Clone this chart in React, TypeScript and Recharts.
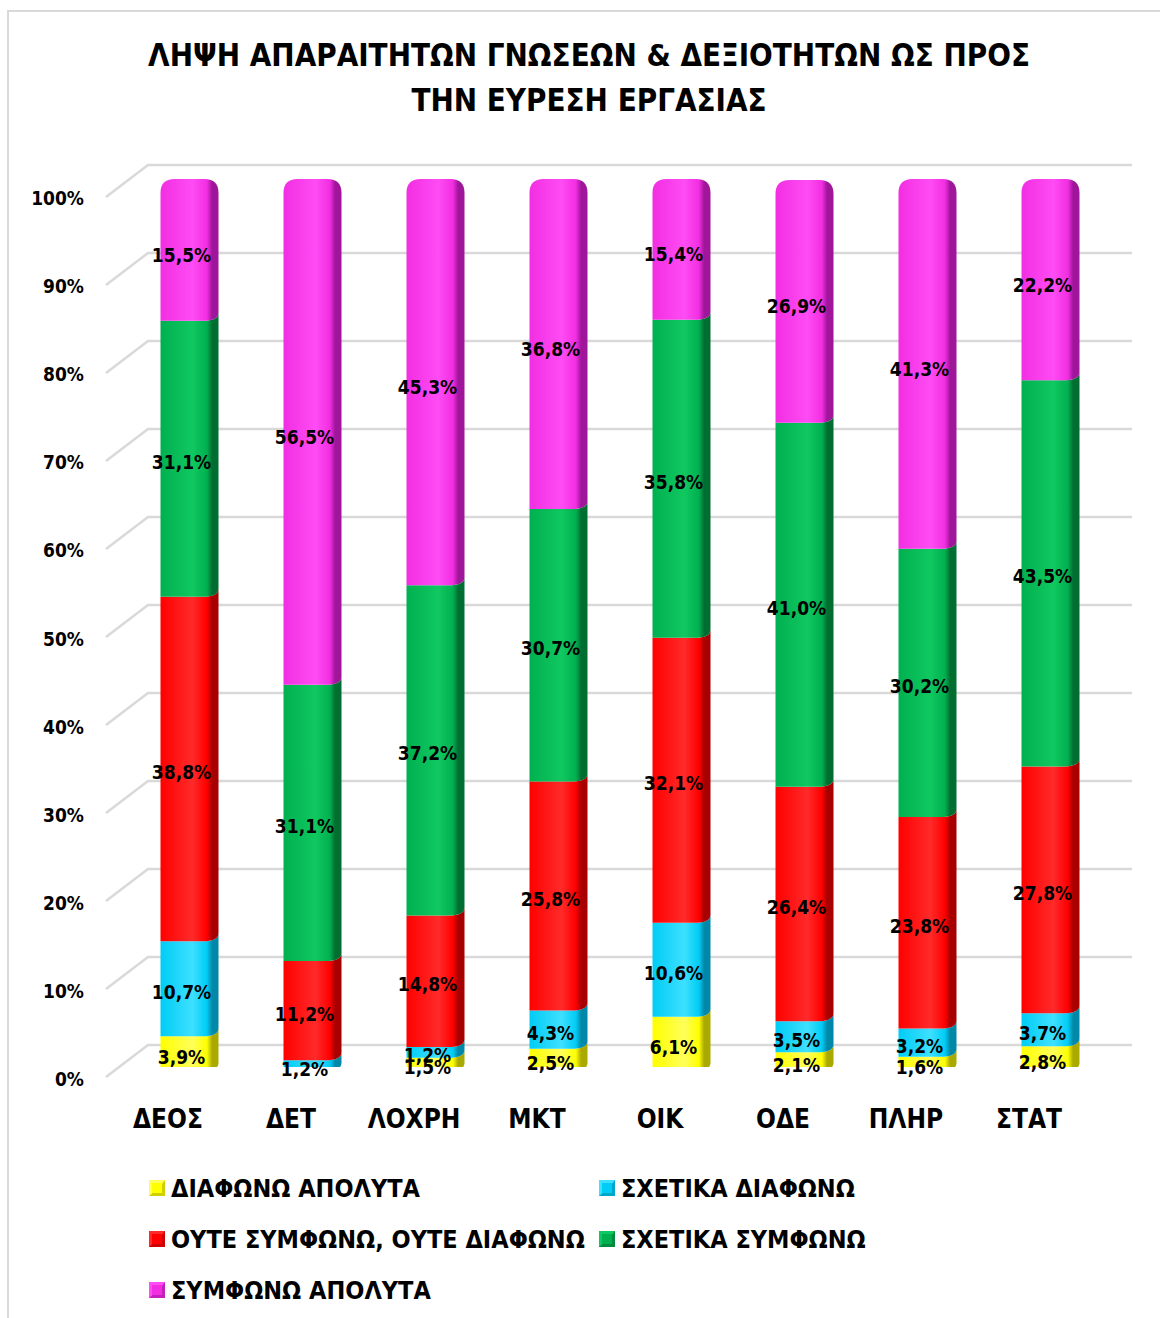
import React from 'react';
import { BarChart, Bar, XAxis, YAxis, CartesianGrid, LabelList, Legend } from 'recharts';

const categories = ['ΔΕΟΣ', 'ΔΕΤ', 'ΛΟΧΡΗ', 'ΜΚΤ', 'ΟΙΚ', 'ΟΔΕ', 'ΠΛΗΡ', 'ΣΤΑΤ'];
const diafonoApolyta = [3.9, 0, 1.5, 2.5, 6.1, 2.1, 1.6, 2.8];
const sxetikaDiafono = [10.7, 1.2, 1.2, 4.3, 10.6, 3.5, 3.2, 3.7];
const outeOute = [38.8, 11.2, 14.8, 25.8, 32.1, 26.4, 23.8, 27.8];
const sxetikaSymfono = [31.1, 31.1, 37.2, 30.7, 35.8, 41.0, 30.2, 43.5];
const symfonoApolyta = [15.5, 56.5, 45.3, 36.8, 15.4, 26.9, 41.3, 22.2];
const yTicks = [0, 10, 20, 30, 40, 50, 60, 70, 80, 90, 100];

const seriesNames = [
  'ΔΙΑΦΩΝΩ ΑΠΟΛΥΤΑ',
  'ΣΧΕΤΙΚΑ ΔΙΑΦΩΝΩ',
  'ΟΥΤΕ ΣΥΜΦΩΝΩ, ΟΥΤΕ ΔΙΑΦΩΝΩ',
  'ΣΧΕΤΙΚΑ ΣΥΜΦΩΝΩ',
  'ΣΥΜΦΩΝΩ ΑΠΟΛΥΤΑ',
];
const seriesKeys = ['s0', 's1', 's2', 's3', 's4'];
const seriesValues = [diafonoApolyta, sxetikaDiafono, outeOute, sxetikaSymfono, symfonoApolyta];

const palette = [
  { base: '#ffff00', light: '#ffff5a', dark: '#a9a900' },
  { base: '#00ccf5', light: '#3ee0ff', dark: '#0088a8' },
  { base: '#ff0000', light: '#ff2a2a', dark: '#a80000' },
  { base: '#00b050', light: '#10c860', dark: '#006e30' },
  { base: '#f22ee2', light: '#ff4cf4', dark: '#a0169a' },
];

const data = categories.map((name, i) => {
  const row: any = { name };
  seriesKeys.forEach((k, j) => {
    row[k] = seriesValues[j][i];
  });
  return row;
});

const FONT = "'Liberation Sans Narrow', 'DejaVu Sans Condensed', 'Open Sans', sans-serif";

const makeSegment = (si: number) => (props: any) => {
  const { x, y, width: w, height: h } = props;
  if (!h || h <= 0.01 || !w) return <g />;
  const d = 4;
  const isTop = si === seriesKeys.length - 1;
  const r = 14;
  let path;
  if (isTop) {
    path = `M${x},${y + h + d} L${x},${y + r} Q${x},${y} ${x + r},${y} L${x + w - r},${y} Q${x + w},${y} ${x + w},${y + r} L${x + w},${y + h - d} Q${x + w},${y + h + d} ${x + 0.72 * w},${y + h + d} Z`;
  } else {
    path = `M${x},${y + d} L${x + 0.72 * w},${y + d} Q${x + w},${y + d} ${x + w},${y - d} L${x + w},${y + h - d} Q${x + w},${y + h + d} ${x + 0.72 * w},${y + h + d} L${x},${y + h + d} Z`;
  }
  return <path d={path} fill={`url(#grad${si})`} />;
};

const renderLabel = (props: any) => {
  const { x, y, width, height, value } = props;
  if (!value) return null;
  return (
    <text
      x={x + width / 2 - 8}
      y={y + height / 2 + 7}
      textAnchor="middle"
      dominantBaseline="central"
      fontFamily={FONT}
      fontWeight="bold"
      fontSize={19}
      fill="#000"
    >
      {String(value.toFixed(1)).replace('.', ',') + '%'}
    </text>
  );
};

const YTick = (props: any) => {
  const { y, payload } = props;
  const ly = y + 12 + ((1067 - y) * 7) / 888;
  return (
    <text x={84} y={ly} textAnchor="end" dominantBaseline="central" fontFamily={FONT} fontWeight="bold" fontSize={19} fill="#000">
      {payload.value + '%'}
    </text>
  );
};

const XTick = (props: any) => {
  const { x, y, payload } = props;
  return (
    <text x={x - 21} y={y + 44} textAnchor="middle" dominantBaseline="central" fontFamily={FONT} fontWeight="bold" fontSize={26} fill="#000">
      {payload.value}
    </text>
  );
};

const gridLine = (p: any) => {
  const y1 = p.y1;
  const yb = 165 + ((y1 - 179) * 880) / 888;
  return (
    <path
      key={`grid-${p.index}-${y1}`}
      d={`M106,${yb + 32} L148,${yb} L1132,${yb}`}
      fill="none"
      stroke="#d9d9d9"
      strokeWidth={2.5}
    />
  );
};

const LegendMarker = ({ si }: { si: number }) => {
  const c = palette[si];
  return (
    <svg width={16} height={16} style={{ display: 'block' }}>
      <rect x={0} y={0} width={16} height={16} fill={c.base} />
      <polygon points="0,0 16,0 10,8 0,16" fill={c.light} />
      <polygon points="16,0 16,16 0,16 10,8" fill={c.dark} opacity={0.55} />
      <rect x={3} y={3} width={10} height={10} fill={c.base} />
    </svg>
  );
};

const renderLegend = () => {
  const cells = [0, 1, 2, 3, 4];
  return (
    <div style={{ position: 'relative', width: 1160, height: 150, fontFamily: FONT, fontWeight: 'bold', fontSize: 25, color: '#000' }}>
      {cells.map((si) => {
        const col = si % 2;
        const row = Math.floor(si / 2);
        return (
          <div
            key={si}
            style={{
              position: 'absolute',
              left: col === 0 ? 149 : 599,
              top: row * 51,
              height: 40,
              display: 'flex',
              alignItems: 'center',
              whiteSpace: 'nowrap',
            }}
          >
            <LegendMarker si={si} />
            <span style={{ marginLeft: 6 }}>{seriesNames[si]}</span>
          </div>
        );
      })}
    </div>
  );
};

export default function App() {
  return (
    <div style={{ position: 'absolute', left: 0, top: 0, width: 1160, height: 1318, overflow: 'hidden', background: '#fff' }}>
      <div
        style={{
          position: 'absolute',
          left: 7,
          top: 10,
          width: 1200,
          height: 1400,
          border: '2px solid #d9d9d9',
          boxSizing: 'border-box',
        }}
      />
      <div
        style={{
          position: 'absolute',
          left: 0,
          top: 33,
          width: 1178,
          textAlign: 'center',
          fontFamily: FONT,
          fontWeight: 'bold',
          fontSize: 31,
          lineHeight: '45px',
          color: '#000',
        }}
      >
        ΛΗΨΗ ΑΠΑΡΑΙΤΗΤΩΝ ΓΝΩΣΕΩΝ &amp; ΔΕΞΙΟΤΗΤΩΝ ΩΣ ΠΡΟΣ
        <br />
        ΤΗΝ ΕΥΡΕΣΗ ΕΡΓΑΣΙΑΣ
      </div>
      <div style={{ position: 'absolute', left: 0, top: 0 }}>
        <BarChart
          width={1160}
          height={1318}
          data={data}
          margin={{ top: 179, right: 48.5, bottom: 41, left: 27.5 }}
          barSize={58}
        >
          <defs>
            {palette.map((c, i) => (
              <linearGradient key={i} id={`grad${i}`} x1="0" y1="0" x2="1" y2="0">
                <stop offset="0%" stopColor={c.base} />
                <stop offset="55%" stopColor={c.light} />
                <stop offset="80%" stopColor={c.base} />
                <stop offset="89%" stopColor={c.dark} />
                <stop offset="100%" stopColor={c.dark} />
              </linearGradient>
            ))}
          </defs>
          <CartesianGrid vertical={false} horizontal={gridLine as any} />
          <XAxis dataKey="name" axisLine={false} tickLine={false} height={60} tick={<XTick />} interval={0} />
          <YAxis
            domain={[0, 100]}
            ticks={yTicks}
            allowDataOverflow
            axisLine={false}
            tickLine={false}
            width={100}
            tick={<YTick />}
          />
          <Legend
            content={renderLegend}
            wrapperStyle={{ position: 'absolute', left: 0, top: 1168, width: 1160, height: 150 }}
          />
          {seriesKeys.map((k, si) => (
            <Bar
              key={k}
              dataKey={k}
              name={seriesNames[si]}
              stackId="a"
              fill={palette[si].base}
              isAnimationActive={false}
              shape={makeSegment(si)}
            >
              <LabelList dataKey={k} content={renderLabel} />
            </Bar>
          ))}
        </BarChart>
      </div>
    </div>
  );
}
